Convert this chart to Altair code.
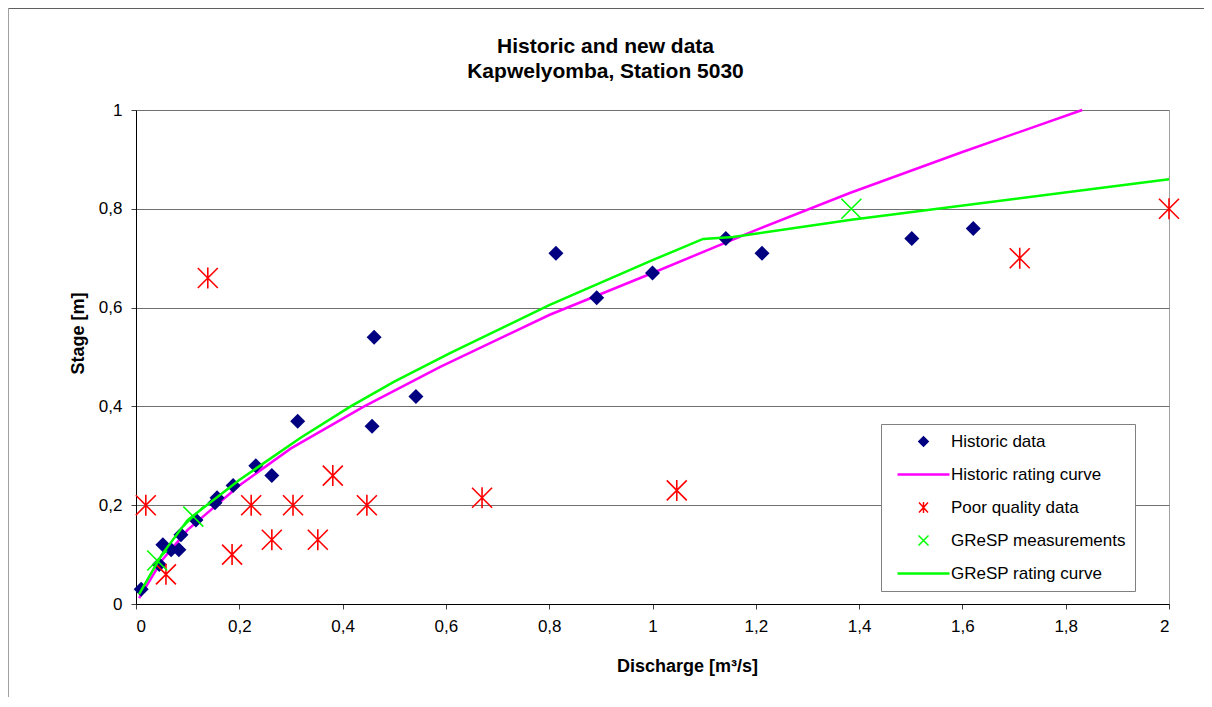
import altair as alt
import pandas as pd

# ---- data ----
series_order = ["Historic data", "Historic rating curve", "Poor quality data",
                "GReSP measurements", "GReSP rating curve"]
series_colors = ["#000080", "#FF00FF", "#FF0000", "#00FF00", "#00FF00"]

hist_q = [0.01, 0.045, 0.052, 0.068, 0.083, 0.087, 0.116, 0.153, 0.157, 0.188, 0.232,
          0.263, 0.313, 0.457, 0.461, 0.542, 0.813, 0.892, 1.0, 1.142, 1.212, 1.502, 1.621]
hist_h = [0.03, 0.08, 0.12, 0.11, 0.11, 0.14, 0.17, 0.205, 0.215, 0.24, 0.28,
          0.26, 0.37, 0.36, 0.54, 0.42, 0.71, 0.62, 0.67, 0.74, 0.71, 0.74, 0.76]

poor_q = [0.019, 0.058, 0.139, 0.186, 0.223, 0.263, 0.304, 0.352, 0.381, 0.447, 0.67, 1.047, 1.711, 2.0]
poor_h = [0.2, 0.06, 0.66, 0.1, 0.2, 0.13, 0.2, 0.13, 0.26, 0.2, 0.215, 0.23, 0.7, 0.8]

gresp_q = [0.041, 0.111, 1.385]
gresp_h = [0.088, 0.177, 0.80]

hcurve_q = [0.006, 0.05, 0.1, 0.2, 0.3, 0.44, 0.589, 0.8, 1.0, 1.2, 1.382, 1.6, 1.832]
hcurve_h = [0.012, 0.088, 0.15, 0.24, 0.315, 0.399, 0.48, 0.585, 0.67, 0.757, 0.832, 0.915, 1.0]

gcurve_q = [0.006, 0.05, 0.1, 0.2, 0.318, 0.414, 0.5, 0.608, 0.8, 1.0, 1.098, 1.156, 1.385, 2.0]
gcurve_h = [0.02, 0.1, 0.17, 0.251, 0.336, 0.399, 0.45, 0.508, 0.605, 0.696, 0.739, 0.743, 0.778, 0.86]

x_ticks = [0, 0.2, 0.4, 0.6, 0.8, 1, 1.2, 1.4, 1.6, 1.8, 2]
y_ticks = [0, 0.2, 0.4, 0.6, 0.8, 1]

FONT = "Liberation Sans"


def frame(q, h, name):
    return pd.DataFrame({"q": q, "h": h, "series": name})


df_hist = frame(hist_q, hist_h, series_order[0])
df_hcurve = frame(hcurve_q, hcurve_h, series_order[1])
df_poor = frame(poor_q, poor_h, series_order[2])
df_gresp = frame(gresp_q, gresp_h, series_order[3])
df_gcurve = frame(gcurve_q, gcurve_h, series_order[4])

# symbol paths
ASTER_PLOT = "M-1,-1L1,1M-1,1L1,-1M0,-1.05L0,1.05"
CROSS_PLOT = "M-1,-1L1,1M-1,1L1,-1"
LEG_DIAMOND = "M0,-1.15L1.15,0L0,1.15L-1.15,0Z"
LEG_ASTER = "M-0.9,-1L0.9,1M-0.9,1L0.9,-1M0,-1.1L0,1.1"
LEG_CROSS = "M-1,-1L1,1M-1,1L1,-1"
LEG_LINE = "M-5.2,0L5.2,0"


def pick(mapping, default):
    expr = ""
    for k, v in mapping:
        expr += f"datum.value === '{k}' ? {v} : "
    return expr + default


shape_expr = pick([(series_order[0], f"'{LEG_DIAMOND}'"),
                   (series_order[2], f"'{LEG_ASTER}'"),
                   (series_order[3], f"'{LEG_CROSS}'")], f"'{LEG_LINE}'")
fill_expr = pick([(series_order[0], "'#000080'")], "'transparent'")
stroke_expr = pick([(series_order[0], "'#000080'"),
                    (series_order[1], "'#FF00FF'"),
                    (series_order[2], "'#FF0000'")], "'#00FF00'")
sw_expr = pick([(series_order[0], "0"),
                (series_order[1], "2.5"),
                (series_order[4], "2.5")], "1.5")

legend = alt.Legend(
    title=None, orient="none", legendX=745, legendY=314,
    labelFont=FONT, labelFontSize=17, labelColor="black", labelLimit=400,
    padding=9, strokeColor="#808080", fillColor="white",
    symbolSize=100, symbolOffset=25, labelOffset=19, rowPadding=15,
    symbolType={"expr": shape_expr},
    symbolFillColor={"expr": fill_expr},
    symbolStrokeColor={"expr": stroke_expr},
    symbolStrokeWidth={"expr": sw_expr},
    symbolOpacity=1,
)

color = alt.Color("series:N", scale=alt.Scale(domain=series_order, range=series_colors), legend=legend)

label_expr = "replace(toString(datum.value), '.', ',')"
x = alt.X("q:Q", scale=alt.Scale(domain=[0, 2], nice=False, zero=True),
          axis=alt.Axis(values=x_ticks, labelExpr=label_expr, grid=False,
                        title="Discharge [m³/s]", titleX=551, titleY=67,
                        titleAlign="center", titleBaseline="alphabetic"))
y = alt.Y("h:Q", scale=alt.Scale(domain=[0, 1], nice=False, zero=True),
          axis=alt.Axis(values=y_ticks, labelExpr=label_expr, grid=True,
                        title="Stage [m]", titleX=-53, titleY=223,
                        titleAlign="center", titleBaseline="alphabetic"))

hcurve = alt.Chart(df_hcurve).mark_line(strokeWidth=2.5).encode(x=x, y=y, color=color)
hist = alt.Chart(df_hist).mark_point(shape="diamond", filled=True, size=225, opacity=1).encode(x=x, y=y, color=color)
poor = alt.Chart(df_poor).mark_point(shape=ASTER_PLOT, filled=False, size=400, strokeWidth=1.6, opacity=1).encode(x=x, y=y, color=color)
gresp = alt.Chart(df_gresp).mark_point(shape=CROSS_PLOT, filled=False, size=400, strokeWidth=1.6, opacity=1).encode(x=x, y=y, color=color)
gcurve = alt.Chart(df_gcurve).mark_line(strokeWidth=2.5).encode(x=x, y=y, color=color)

border_left = alt.Chart(alt.Data(values=[{}])).mark_rule(color="#a0a0a0", strokeWidth=1).encode(
    x=alt.value(-127.5), y=alt.value(-101.5), y2=alt.value(620))
border_top = alt.Chart(alt.Data(values=[{}])).mark_rule(color="#606060", strokeWidth=1).encode(
    x=alt.value(-127.5), x2=alt.value(1100), y=alt.value(-101.5))

chart = alt.layer(border_left, border_top, hcurve, hist, poor, gresp, gcurve).properties(
    width=1033, height=494,
    autosize=alt.AutoSizeParams(type="none"),
    padding={"left": 128, "top": 102, "right": 35, "bottom": 93},
    title=alt.TitleParams(text=["Historic and new data", "Kapwelyomba, Station 5030"],
                          font=FONT, fontSize=21, fontWeight="bold", color="black",
                          anchor="middle", dx=-47, lineHeight=25, offset=0,
                          baseline="alphabetic", dy=91),
).configure_view(stroke="#a0a0a0", strokeWidth=1).configure_axis(
    labelFont=FONT, labelFontSize=17, labelColor="black",
    titleFont=FONT, titleFontSize=18, titleFontWeight="bold", titleColor="black",
    domainColor="black", domainWidth=1, tickColor="#404040", tickSize=5,
    labelPadding=9, gridColor="#707070", gridWidth=1,
)

chart.save("out.html", embed_options={"renderer": "svg", "actions": False})
